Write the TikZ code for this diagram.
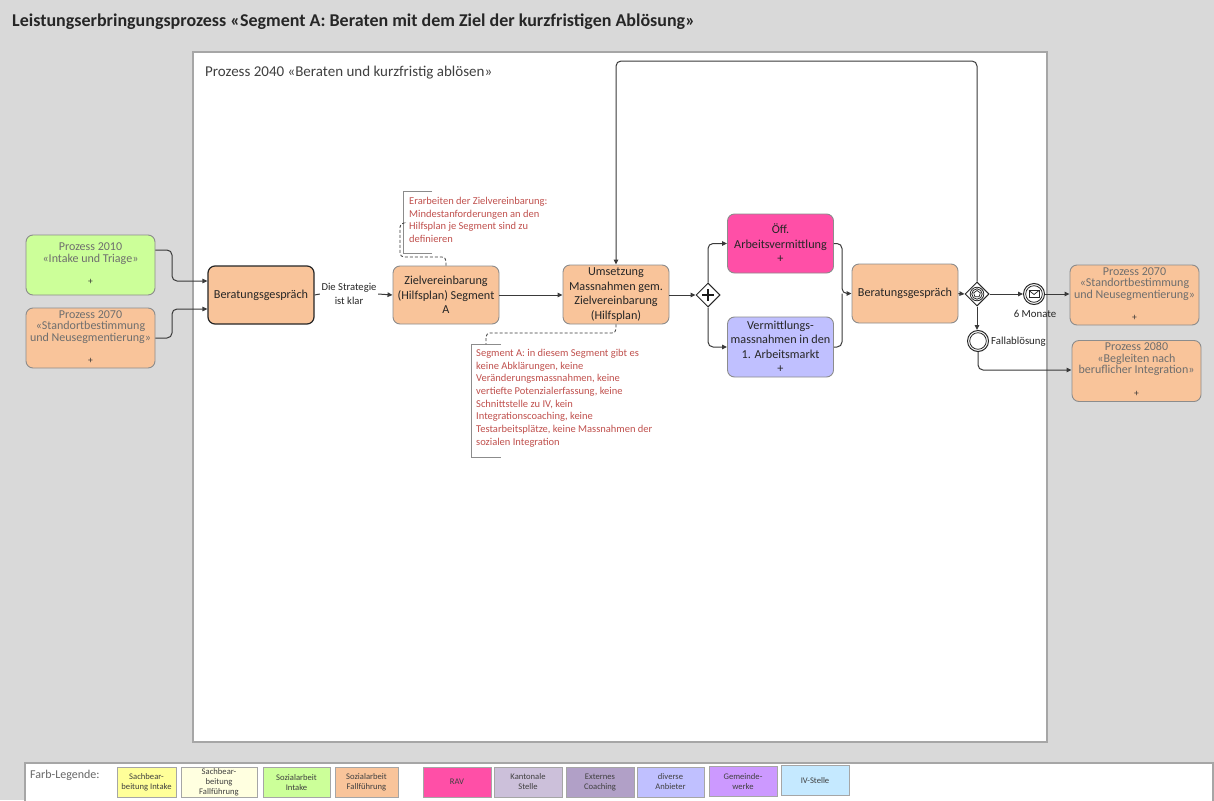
\documentclass[tikz,border=0pt]{standalone}
\usepackage{fontspec}
\setmainfont{Carlito}
\usetikzlibrary{arrows.meta,calc,shapes.geometric}

\definecolor{bggray}{HTML}{D9D9D9}
\definecolor{framegray}{HTML}{A6A6A6}
\definecolor{boxline}{HTML}{8C8C8C}
\definecolor{flowline}{HTML}{3A3A3A}
\definecolor{orangefill}{HTML}{F9C49A}
\definecolor{greenfill}{HTML}{CCFF99}
\definecolor{pinkfill}{HTML}{FF4FA7}
\definecolor{lavfill}{HTML}{C0C0FF}
\definecolor{yellowfill}{HTML}{FFFF99}
\definecolor{paleyellow}{HTML}{FFFFE0}
\definecolor{kantfill}{HTML}{CCC0DA}
\definecolor{extfill}{HTML}{B1A0C7}
\definecolor{gemfill}{HTML}{CC99FF}
\definecolor{ivfill}{HTML}{C5E9FF}
\definecolor{proctext}{HTML}{6E6E6E}
\definecolor{anncol}{HTML}{C0504D}
\definecolor{bracketgray}{HTML}{8C8C8C}

\newcommand\fsz[2]{\fontsize{#1}{#2}\selectfont}

\tikzset{
  taskbox/.style={draw=boxline, line width=0.9pt, rounded corners=7pt,
    align=center, inner sep=1pt, text=black!85, font=\fsz{12.2}{14.5},
    minimum width=106pt, minimum height=59pt},
  procbox/.style={draw=boxline, line width=0.9pt, rounded corners=7pt,
    fill=orangefill, minimum width=129pt, minimum height=60pt},
  proclabel/.style={align=center, inner sep=0pt, text=proctext, font=\fsz{12}{11.8}},
  plusmark/.style={inner sep=0pt, text=black!80, font=\fsz{9.5}{9.5}},
  flow/.style={draw=flowline, line width=1pt, rounded corners=5pt,
    -{Triangle[length=5pt,width=4.5pt]}},
  plainflow/.style={draw=flowline, line width=1pt, rounded corners=5pt},
  assoc/.style={draw=flowline, line width=0.8pt, dash pattern=on 3pt off 2pt, rounded corners=4pt},
  bracketline/.style={draw=bracketgray, line width=0.8pt},
  anntext/.style={align=left, inner sep=0pt, text=anncol, font=\fsz{10.5}{12.7}, anchor=north west},
  gateway/.style={diamond, draw=black!85, line width=1pt, fill=white, minimum width=24pt, minimum height=24pt, inner sep=0pt},
  eventcircle/.style={circle, draw=black!85, line width=1pt, fill=white, minimum size=21pt, inner sep=0pt},
  smalllabel/.style={inner sep=0pt, text=black!85, font=\fsz{10.8}{12}},
  legbox/.style={draw=black!35, line width=0.8pt, align=center, inner sep=0pt,
    text=black!75, font=\fsz{8.6}{10}, minimum height=30pt},
}

\begin{document}
\begin{tikzpicture}[x=1pt,y=-1pt]
\useasboundingbox (0,0) rectangle (1214,800);

% background and frames
\fill[bggray] (0,0) rectangle (1214,800);
\draw[framegray, line width=1.2pt, fill=white] (193,52) rectangle (1047,742);
\draw[framegray, line width=1.2pt, fill=white] (25,763) rectangle (1213,812);

% headings
\node[anchor=west, inner sep=0pt, text=black!85, font=\fsz{18}{20}\bfseries] (title) at (12,22)
  {Leistungserbringungsprozess «Segment A: Beraten mit dem Ziel der kurzfristigen Ablösung»};
\node[anchor=west, inner sep=0pt, text=black!75, font=\fsz{15}{17}] (pname) at (205,73)
  {Prozess 2040 «Beraten und kurzfristig ablösen»};

% linked processes on the left
\node[procbox, fill=greenfill] (p2010) at (90.5,265) {};
\node[proclabel] (p2010t) at (90.5,254) {Prozess 2010\\«Intake und Triage»};
\node[plusmark] (p2010p) at (90.5,282) {+};

\node[procbox] (p2070a) at (90.5,338) {};
\node[proclabel] (p2070at) at (90.5,327) {Prozess 2070\\«Standortbestimmung\\und Neusegmentierung»};
\node[plusmark] (p2070ap) at (90.5,361) {+};

% tasks
\node[taskbox, fill=orangefill, draw=black!85, line width=1.2pt, minimum height=58pt] (ber1) at (261,295) {Beratungsgespräch};
\node[taskbox, fill=orangefill, minimum height=58pt] (ziel) at (446,295) {Zielvereinbarung\\(Hilfsplan) Segment\\A};
\node[taskbox, fill=orangefill] (ums) at (616,294.5) {Umsetzung\\Massnahmen gem.\\Zielvereinbarung\\(Hilfsplan)};
\node[taskbox, fill=pinkfill] (oav) at (780.5,243.5) {Öff.\\Arbeitsvermittlung\\+};
\node[taskbox, fill=lavfill, minimum height=60pt] (verm) at (780.5,347) {Vermittlungs-\\massnahmen in den\\1. Arbeitsmarkt\\+};
\node[taskbox, fill=orangefill] (ber2) at (905,293.5) {Beratungsgespräch};

% gateways
\node[gateway] (par) at (708,295) {};
\draw[line width=2.2pt, black!90] ($(par)+(-6,0)$) -- ($(par)+(6,0)$) ($(par)+(0,-6)$) -- ($(par)+(0,6)$);

\node[gateway] (evg) at (977,294) {};
\draw[black!85, line width=0.8pt] (evg.center) circle (6.8pt);
\draw[black!85, line width=0.8pt] (evg.center) circle (5.2pt);
\node[regular polygon, regular polygon sides=5, draw=black!85, line width=0.7pt, minimum size=7pt, inner sep=0pt] (evgp) at (977,294) {};

% events
\node[eventcircle] (msg) at (1034,294) {};
\draw[black!85, line width=0.8pt] (msg.center) circle (8.3pt);
\draw[black!85, line width=0.7pt] (1029,290.5) rectangle (1039,297.5);
\draw[black!85, line width=0.7pt] (1029,290.5) -- (1034,294.5) -- (1039,290.5);
\node[smalllabel] (msgl) at (1035,314) {6 Monate};

\node[eventcircle] (fall) at (978,341) {};
\draw[black!85, line width=0.8pt] (fall.center) circle (8.3pt);
\node[smalllabel, anchor=west] (falll) at (991,342) {Fallablösung};

% linked processes on the right
\node[procbox] (p2070b) at (1134.5,295) {};
\node[proclabel] (p2070bt) at (1134.5,284) {Prozess 2070\\«Standortbestimmung\\und Neusegmentierung»};
\node[plusmark] (p2070bp) at (1134.5,318) {+};

\node[procbox, minimum height=61pt] (p2080) at (1136.5,371) {};
\node[proclabel] (p2080t) at (1136.5,359) {Prozess 2080\\«Begleiten nach\\beruflicher Integration»};
\node[plusmark] (p2080p) at (1136.5,394) {+};

% sequence flows
\draw[flow] ($(p2010.east)+(0,-15)$) -- (172,250) -- (172,281) -- ($(ber1.west)+(0,-14)$);
\draw[flow] (p2070a.east) -- (172,338) -- (172,309) -- ($(ber1.west)+(0,14)$);

\node[smalllabel, fill=white, align=center, inner sep=1.5pt, font=\fsz{10.6}{13.5}] (strat) at (349,294) {Die Strategie\\ist klar};
\draw[plainflow] (ber1.east) -- (strat.west);
\draw[flow] (strat.east) -- (ziel.west);

\draw[flow] (ziel.east) -- (ums.west |- ziel.east);
\draw[flow] (ums.east |- par.west) -- (par.west);
\draw[flow] (par.north) |- (oav.west);
\draw[flow] (par.south) |- (verm.west);
\draw[flow] (oav.east) -- (842,243.5) -- (842,293.5) -- (ber2.west);
\draw[plainflow] (verm.east) -- (842,347) -- (842,293.5);
\draw[flow] (ber2.east) -- (evg.west);
\draw[flow] (evg.east) -- (msg.west);
\draw[flow] (msg.east) -- (p2070b.west |- msg.east);
\draw[flow] (evg.south) -- (fall.north -| evg.south);
\draw[flow] (fall.south) |- (p2080.west |- 0,370);
\draw[flow] (evg.north) -- (977,61) -- (616,61) -- (ums.north);

% annotations
\draw[bracketline] (432,191) -- (403,191) -- (403,253) -- (432,253);
\node[anntext] (ann1) at (409,197) {Erarbeiten der Zielvereinbarung:\\Mindestanforderungen an den\\Hilfsplan je Segment sind zu\\definieren};
\draw[assoc] (403,223) -- (400,223) -- (400,257) -- (446,257) -- (ziel.north);

\draw[bracketline] (501,344) -- (471,344) -- (471,457) -- (501,457);
\node[anntext] (ann2) at (476,349) {Segment A: in diesem Segment gibt es\\keine Abklärungen, keine\\Veränderungsmassnahmen, keine\\vertiefte Potenzialerfassung, keine\\Schnittstelle zu IV, kein\\Integrationscoaching, keine\\Testarbeitsplätze, keine Massnahmen der\\sozialen Integration};
\draw[assoc] (ums.south) -- (616,333) -- (486,333) -- (486,344);

% colour legend
\node[anchor=west, inner sep=0pt, text=black!60, font=\fsz{12}{14}] (legtitle) at (30,775) {Farb-Legende:};
\node[legbox, fill=yellowfill, minimum width=59pt] (lg1) at (146.5,782.5) {Sachbear-\\beitung Intake};
\node[legbox, fill=paleyellow, minimum width=76pt] (lg2) at (219,782.5) {Sachbear-\\beitung\\Fallführung};
\node[legbox, fill=greenfill, minimum width=67pt] (lg3) at (296.5,782.5) {Sozialarbeit\\Intake};
\node[legbox, fill=orangefill, minimum width=63pt] (lg4) at (366.5,782.5) {Sozialarbeit\\Fallführung};
\node[legbox, fill=pinkfill, minimum width=68pt] (lg5) at (457,782) {RAV};
\node[legbox, fill=kantfill, minimum width=68pt] (lg6) at (528,782) {Kantonale\\Stelle};
\node[legbox, fill=extfill, minimum width=68pt] (lg7) at (600,782) {Externes\\Coaching};
\node[legbox, fill=lavfill, minimum width=67pt] (lg8) at (670.5,782) {diverse\\Anbieter};
\node[legbox, fill=gemfill, minimum width=68pt] (lg9) at (743,781.5) {Gemeinde-\\werke};
\node[legbox, fill=ivfill, minimum width=68pt] (lg10) at (815,780.5) {IV-Stelle};
\end{tikzpicture}
\end{document}
